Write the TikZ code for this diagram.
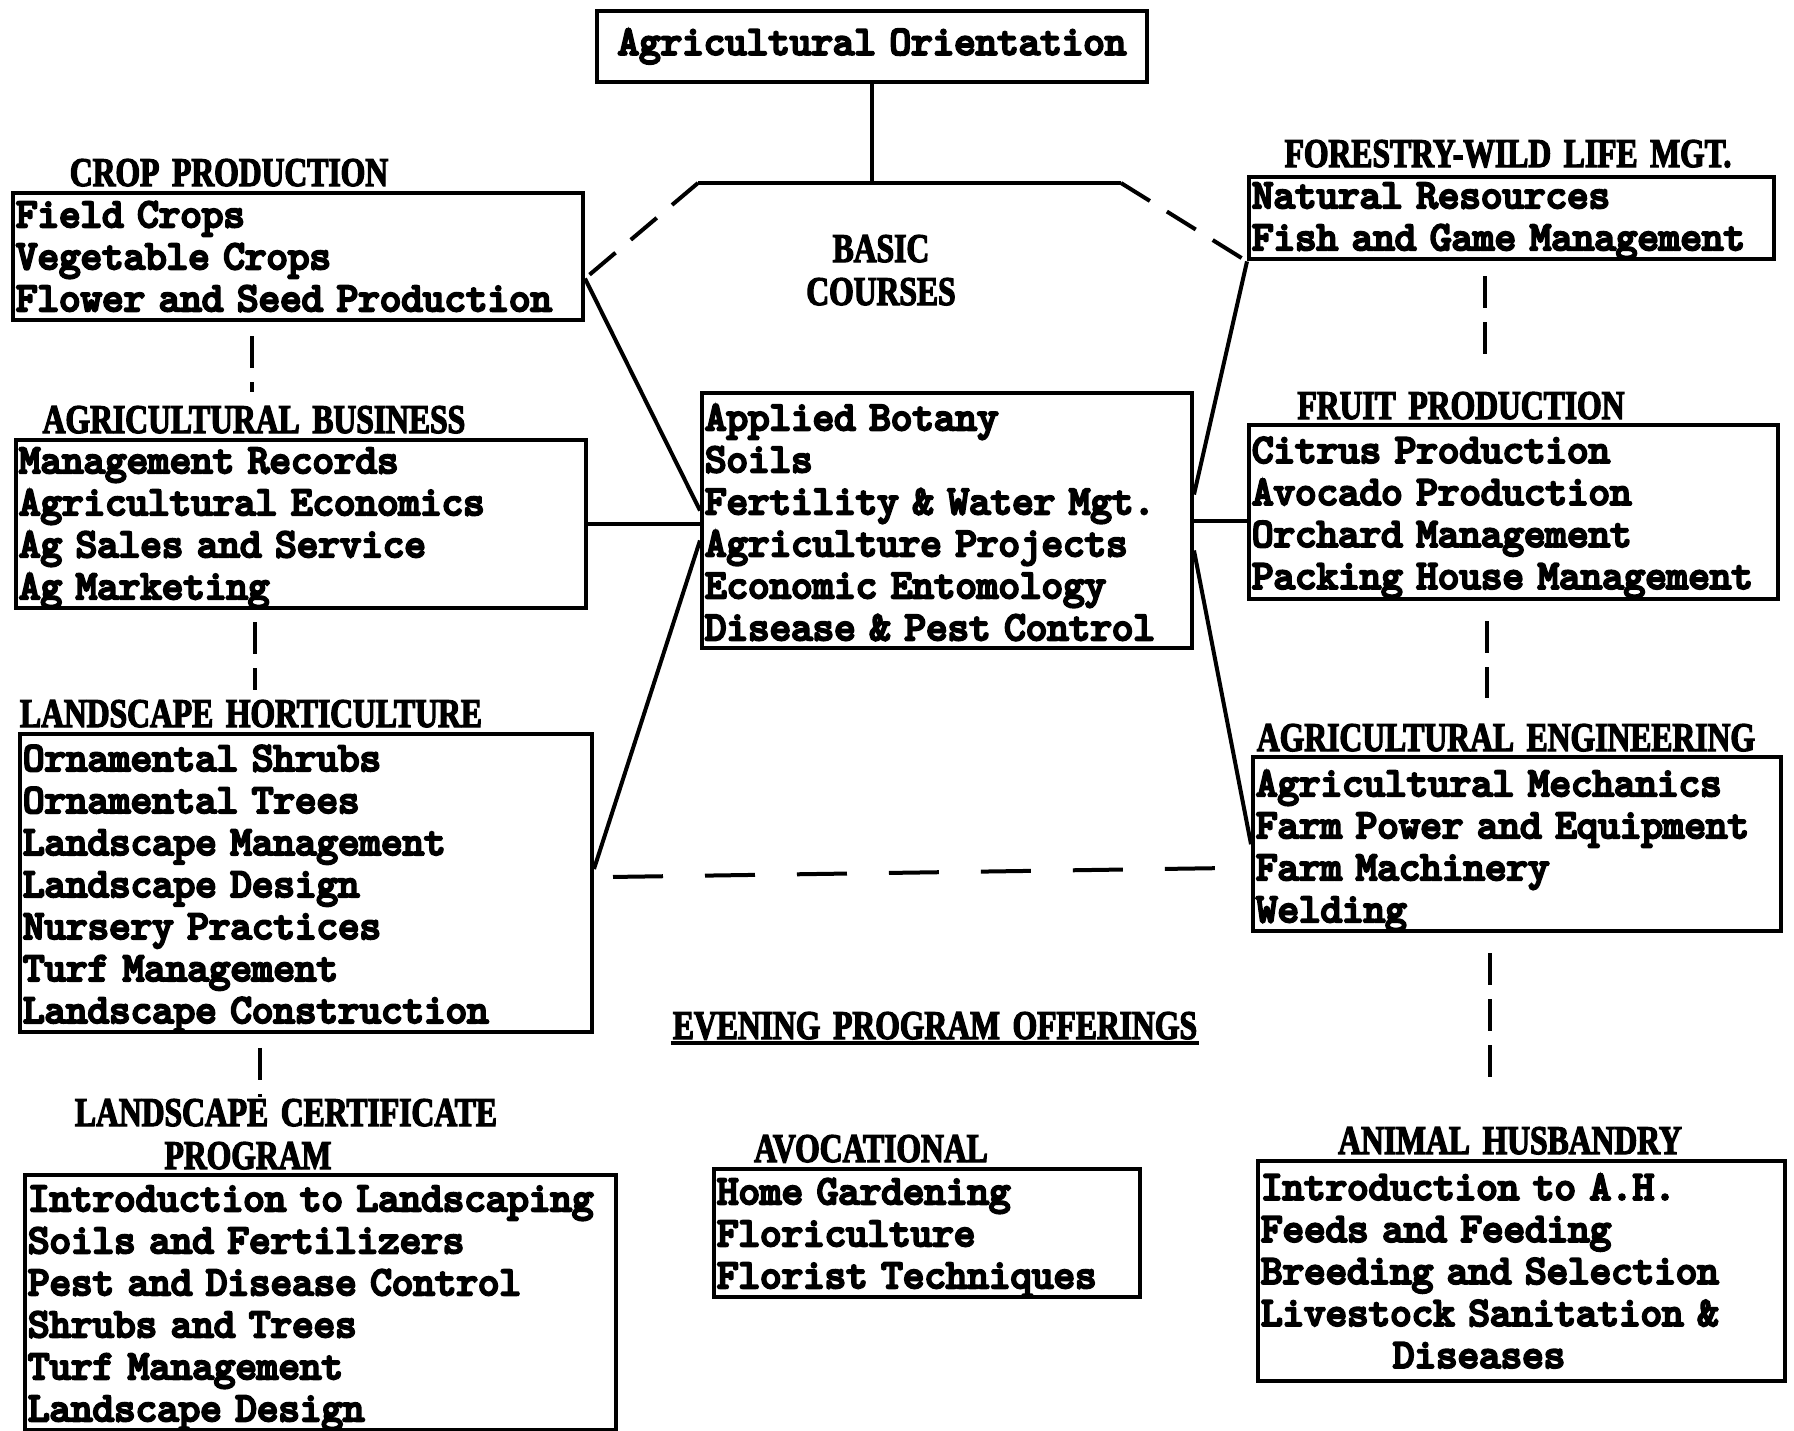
\documentclass[tikz,border=0pt]{standalone}
\usepackage{fontspec}
\newfontfamily\headfont[FakeStretch=0.775,FakeBold=3,WordSpace=1.6]{Liberation Serif Bold}
\newfontfamily\boxfont[FakeBold=6]{lmmono10-regular.otf}
\usetikzlibrary{calc}

\begin{document}
\begin{tikzpicture}[x=0.5pt,y=-0.5pt,line width=2pt,
  box/.style={draw,anchor=north west,align=left,inner xsep=1.5pt,inner ysep=0pt,
    font=\boxfont\fontsize{20.5}{21}\selectfont},
  firstline/.style={execute at begin node={\rule{0pt}{#1}}},
  head/.style={anchor=base,inner sep=0pt,font=\headfont\fontsize{20.4}{22.5}\selectfont},
  sdash/.style={dash pattern=on 17pt off 10pt},
  hdash/.style={dash pattern=on 25pt off 21pt},
  vdash/.style={dash pattern=on 16pt off 7pt}]
\useasboundingbox (0,0) rectangle (1794,1430);

% boxes
\node[box,text width=272pt,minimum height=35.5pt,align=center] (orient) at (595,9) {Agricultural Orientation};
\node[box,text width=282pt,minimum height=63.5pt] (crop) at (11,191) {Field Crops\\Vegetable Crops\\Flower and Seed Production};
\node[box,firstline=16.5pt,text width=282pt,minimum height=84pt] (agbus) at (14,438) {Management Records\\Agricultural Economics\\Ag Sales and Service\\Ag Marketing};
\node[box,firstline=18.4pt,text width=283pt,minimum height=147.5pt] (hort) at (18,732) {Ornamental Shrubs\\Ornamental Trees\\Landscape Management\\Landscape Design\\Nursery Practices\\Turf Management\\Landscape Construction};
\node[box,firstline=18pt,text width=292.5pt,minimum height=127.5pt] (cert) at (23,1173) {Introduction to Landscaping\\Soils and Fertilizers\\Pest and Disease Control\\Shrubs and Trees\\Turf Management\\Landscape Design};
\node[box,firstline=14.8pt,text width=242pt,minimum height=127.5pt] (basic) at (700,391) {Applied Botany\\Soils\\Fertility \& Water Mgt.\\Agriculture Projects\\Economic Entomology\\Disease \& Pest Control};
\node[box,firstline=15.5pt,text width=259.5pt,minimum height=41pt] (forest) at (1247,175) {Natural Resources\\Fish and Game Management};
\node[box,firstline=18.4pt,text width=261.5pt,minimum height=87pt] (fruit) at (1247,423) {Citrus Production\\Avocado Production\\Orchard Management\\Packing House Management};
\node[box,firstline=19.5pt,text width=261pt,minimum height=87pt] (ageng) at (1251,755) {Agricultural Mechanics\\Farm Power and Equipment\\Farm Machinery\\Welding};
\node[box,text width=260.5pt,minimum height=110pt] (animal) at (1256,1159) {Introduction to A.H.\\Feeds and Feeding\\Breeding and Selection\\Livestock Sanitation \&\\\hspace*{66pt}Diseases};
\node[box,firstline=17.5pt,text width=210pt,minimum height=64pt] (avoc) at (712,1167) {Home Gardening\\Floriculture\\Florist Techniques};

% titles
\node[head] (cropT) at (229,186) {CROP PRODUCTION};
\node[head] (agbusT) at (254,433) {AGRICULTURAL BUSINESS};
\node[head] (hortT) at (251,727) {LANDSCAPE HORTICULTURE};
\node[head] (certT) at (286,1126) {LANDSCAPE CERTIFICATE};
\node[head] (certP) at (248,1169) {PROGRAM};
\node[head] (basicT) at (881,262) {BASIC};
\node[head] (basicC) at (881,305) {COURSES};
\node[head] (forestT) at (1508,167) {FORESTRY-WILD LIFE MGT.};
\node[head] (fruitT) at (1461,419) {FRUIT PRODUCTION};
\node[head] (agengT) at (1506,751) {AGRICULTURAL ENGINEERING};
\node[head] (animalT) at (1510,1154) {ANIMAL HUSBANDRY};
\node[head] (avocT) at (871,1162) {AVOCATIONAL};
\node[head] (evening) at (935,1039) {EVENING PROGRAM OFFERINGS};
\draw ([yshift=-2pt]evening.base west) -- ([yshift=-2pt]evening.base east);

% connectors
\coordinate (tl) at (698,183);
\coordinate (tr) at (1121,183);
\draw (orient.south) -- (orient.south |- tl);
\draw (tl) -- (tr);
\draw[sdash] (tl) -- ([yshift=-11pt]crop.east);
\draw[sdash] (tr) -- (forest.south west);
\draw ([yshift=-11pt]crop.east) -- ([yshift=5pt]basic.west);
\draw (agbus.east) -- (agbus.east -| basic.west);
\draw ([yshift=-10pt]basic.west) -- ([yshift=7pt]hort.east);
\draw[hdash] ([xshift=9.5pt,yshift=3pt]hort.east) -- ([xshift=-18pt,yshift=-12pt]ageng.west);
\draw ([yshift=13pt]basic.east) -- (forest.south west);
\draw (basic.east) -- (basic.east -| fruit.west);
\draw ([yshift=-15pt]basic.east) -- (ageng.west);

\draw[vdash,shorten <=7pt,shorten >=6pt] ($(crop.south west)!0.42!(crop.south east)$) coordinate (c1) -- (c1 |- agbusT.north);
\draw[vdash,shorten <=6pt,shorten >=4pt] ($(agbus.south west)!0.42!(agbus.south east)$) coordinate (c2) -- (c2 |- hortT.north);
\draw[vdash,shorten <=7pt] ($(hort.south west)!0.42!(hort.south east)$) coordinate (c3) -- (c3 |- certT.north);
\draw[vdash,shorten <=7.5pt,shorten >=14pt] ($(forest.south west)!0.45!(forest.south east)$) coordinate (c4) -- (c4 |- fruitT.north);
\draw[vdash,shorten <=10pt,shorten >=12pt] ($(fruit.south west)!0.45!(fruit.south east)$) coordinate (c5) -- (c5 |- agengT.north);
\draw[vdash,shorten <=10pt,shorten >=23pt] ($(ageng.south west)!0.45!(ageng.south east)$) coordinate (c6) -- (c6 |- animalT.north);
\end{tikzpicture}
\end{document}
